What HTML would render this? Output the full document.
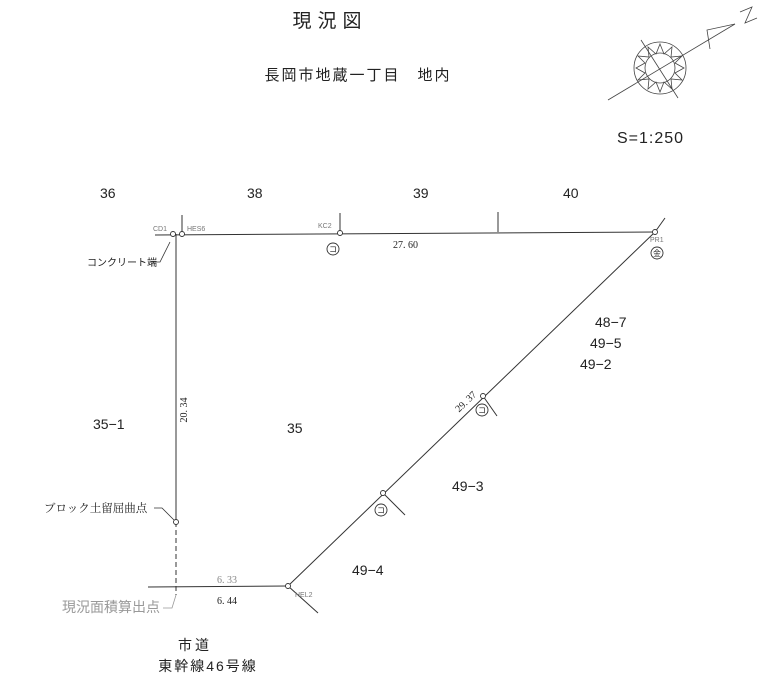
<!DOCTYPE html>
<html><head><meta charset="utf-8"><style>
body{margin:0;background:#fff;}
svg text{font-family:"Liberation Sans","Noto Sans CJK JP",sans-serif;fill:#222;}
.m{font-family:"Liberation Serif","Noto Serif CJK SC",serif;}
</style></head><body>
<svg width="773" height="685" viewBox="0 0 773 685" xmlns="http://www.w3.org/2000/svg">
<rect width="773" height="685" fill="#fff"/>
<text x="330" y="27" font-size="19" text-anchor="middle" letter-spacing="6">現況図</text>
<text x="358" y="80" font-size="15" text-anchor="middle" letter-spacing="2">長岡市地蔵一丁目　地内</text>
<text x="617" y="143" font-size="16" letter-spacing="1">S=1:250</text>
<g stroke="#444" fill="none" stroke-width="0.8">
<circle cx="660" cy="68" r="26"/><circle cx="660" cy="68" r="15"/>
<polygon points="660,44 664,54 672,47 671,57 682,56 675,63 684,68 675,73 682,80 671,79 672,89 664,82 660,92 656,82 648,89 649,79 638,80 645,73 636,68 645,63 638,56 649,57 648,47 656,54"/>
<line x1="608" y1="100" x2="735" y2="24"/>
<line x1="641" y1="40" x2="678" y2="98"/>
<polyline points="710,49 707,30 735,24"/>
<polyline points="740,12 752,7 745,23 757,18"/>
</g>
<g font-size="14">
<text x="100" y="198">36</text><text x="247" y="198">38</text><text x="413" y="198">39</text><text x="563" y="198">40</text>
<text x="595" y="327">48−7</text><text x="590" y="348">49−5</text><text x="580" y="369">49−2</text>
<text x="93" y="429">35−1</text><text x="287" y="433">35</text>
<text x="452" y="491">49−3</text><text x="352" y="575">49−4</text>
</g>
<g stroke="#333" stroke-width="1" fill="none">
<line x1="155" y1="235" x2="655" y2="232"/>
<line x1="182" y1="215" x2="182" y2="234"/>
<line x1="340" y1="213" x2="340" y2="233"/>
<line x1="498" y1="212" x2="498" y2="232"/>
<line x1="655" y1="232" x2="665" y2="218"/>
<line x1="655" y1="232" x2="288" y2="586"/>
<line x1="176" y1="234" x2="176" y2="522"/>
<line x1="176" y1="522" x2="176" y2="595" stroke-dasharray="5,3"/>
<line x1="148" y1="587" x2="288" y2="586"/>
<line x1="288" y1="586" x2="318" y2="613"/>
<line x1="483" y1="396" x2="497" y2="416"/>
<line x1="383" y1="493" x2="405" y2="515"/>
</g>
<g stroke="#333" fill="#fff" stroke-width="0.9">
<circle cx="173" cy="234" r="2.5"/><circle cx="182" cy="234" r="2.5"/><circle cx="340" cy="233" r="2.5"/><circle cx="655" cy="232" r="2.5"/>
<circle cx="176" cy="522" r="2.5"/><circle cx="288" cy="586" r="2.5"/><circle cx="483" cy="396" r="2.5"/><circle cx="383" cy="493" r="2.5"/>
<circle cx="333" cy="249" r="6"/><circle cx="482" cy="410" r="6"/><circle cx="381" cy="510" r="6"/><circle cx="657" cy="253" r="6"/>
</g>
<g font-size="8" text-anchor="middle">
<text x="333" y="252">コ</text><text x="482" y="413">コ</text><text x="381" y="513">コ</text><text x="657" y="256">金</text>
</g>
<g font-size="7">
<text x="153" y="231" style="fill:#777">CD1</text><text x="187" y="231" style="fill:#777">HES6</text>
<text x="318" y="228" style="fill:#777">KC2</text><text x="650" y="242" style="fill:#777">PR1</text>
<text x="295" y="597" style="fill:#777">HEL2</text>
</g>
<g class="m" font-size="10">
<text x="393" y="248" class="m">27. 60</text>
<text x="217" y="583" class="m" style="fill:#888">6. 33</text>
<text x="217" y="604" class="m">6. 44</text>
<text transform="translate(187,410) rotate(-90)" class="m" text-anchor="middle">20. 34</text>
<text transform="translate(468,404) rotate(-44)" class="m" text-anchor="middle">29. 37</text>
</g>
<text x="87" y="266" font-size="10">コンクリート端</text>
<text x="44" y="512" font-size="11.5" class="m">ブロック土留屈曲点</text>
<text x="62" y="612" font-size="14" style="fill:#999">現況面積算出点</text>
<g stroke="#333" fill="none" stroke-width="0.8">
<polyline points="150,262 160,262 170,242"/>
<polyline points="154,508 162,508 174,520"/>
<polyline points="163,608 172,608 176,595" stroke="#999"/>
</g>
<text x="195" y="650" font-size="14" text-anchor="middle" letter-spacing="3">市道</text>
<text x="208" y="671" font-size="14" text-anchor="middle" letter-spacing="2">東幹線46号線</text>
</svg>
</body></html>
